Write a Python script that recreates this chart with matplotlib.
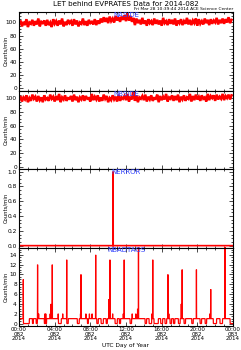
import numpy as np
import matplotlib
matplotlib.use("Agg")
import matplotlib.pyplot as plt
from matplotlib.ticker import MultipleLocator, AutoMinorLocator, FormatStrFormatter

# ---- data ----
title = "LET behind EVPRATES Data for 2014-082"
stamp = "Fri Mar 28 10:39:44 2014 ACE Science Center"
panel_names = ["NASIDE", "NBSIDE", "NERROR", "NBADTAGS"]
x_tick_hours = [0, 4, 8, 12, 16, 20, 24]
x_tick_labels = ["00:00\n082\n2014", "04:00\n082\n2014", "08:00\n082\n2014",
                 "12:00\n082\n2014", "16:00\n082\n2014", "20:00\n082\n2014",
                 "00:00\n083\n2014"]

# 10-minute samples (144 per day)
naside = [97, 103, 94, 101, 96, 105, 93, 100, 98, 104,
          95, 102, 97, 106, 94, 101, 99, 103, 95, 104,
          96, 100, 93, 105, 98, 102, 95, 103, 97, 106,
          94, 101, 96, 104, 99, 102, 95, 105, 97, 103,
          94, 100, 98, 106, 96, 102, 95, 104, 99, 101,
          97, 105, 96, 103,
          98, 106, 100, 108, 101, 107, 99, 109, 102, 106,
          100, 110, 103, 108, 101, 109, 104, 111, 102, 114,
          103, 110, 101, 107,
          96, 106, 99, 104, 97, 107, 98, 103, 95, 105,
          99, 102, 96, 106, 98, 104, 97, 103, 95, 107,
          99, 102, 96, 105, 98, 104, 97, 106, 95, 103,
          99, 105, 96, 102, 98, 107, 97, 104, 96, 103,
          99, 106, 95, 105, 98, 102, 97, 106, 99, 104,
          96, 105, 98, 103, 100, 107, 97, 104, 99, 106,
          98, 105, 100, 108, 99, 104]
nbside = [97, 103, 95, 101, 98, 104, 94, 100, 96, 105,
          99, 102, 95, 103, 97, 101, 94, 104, 98, 100,
          96, 105, 99, 102, 95, 103, 97, 106, 94, 101,
          98, 104, 96, 100, 99, 103, 95, 105, 97, 102,
          94, 101, 98, 104, 96, 103, 99, 100, 95, 106,
          97, 102, 98, 104, 95, 101, 96, 105, 99, 103,
          94, 100, 97, 104, 98, 102, 95, 105, 96, 101,
          99, 103, 97, 106, 95, 102, 98, 112, 96, 104,
          94, 101, 99, 103, 97, 105, 95, 102, 98, 104,
          96, 100, 99, 105, 94, 103, 97, 102, 98, 106,
          95, 101, 99, 104, 96, 103, 97, 105, 94, 102,
          98, 104, 96, 101, 99, 106, 95, 103, 97, 105,
          98, 102, 96, 104, 99, 101, 95, 106, 97, 103,
          100, 104, 96, 105, 98, 102, 99, 106, 97, 103,
          100, 105, 98, 104]

# NERROR events (hour, count)
nerror_hours = [10.55]
nerror_counts = [1]

# NBADTAGS: runs of 1 count/min (start hour, end hour)
badtag_run_start = [0.0, 1.16, 1.61, 2.06, 3.10, 4.75, 5.53, 6.77, 7.78, 8.90,
                    9.46, 9.91, 11.03, 11.40, 12.63, 14.32, 14.88, 15.63, 16.11,
                    16.56, 17.12, 17.49, 18.09, 18.69, 19.55, 20.49, 21.05,
                    22.16, 22.84]
badtag_run_end = [0.49, 1.50, 1.91, 2.84, 4.41, 5.35, 6.54, 7.66, 8.71, 9.20,
                  9.76, 10.77, 11.25, 12.45, 14.13, 14.58, 15.14, 15.89, 16.37,
                  16.93, 17.31, 17.87, 18.50, 19.36, 20.30, 20.86, 21.79,
                  22.54, 23.66]
# NBADTAGS: single-minute spikes (hour, count)
badtag_hours = [0.49, 2.09, 2.20, 2.90, 3.00, 3.50, 3.59, 3.74, 4.40, 4.90,
                5.35, 6.90, 6.95, 7.50, 7.90, 8.20, 8.60, 10.10, 10.20, 10.50,
                11.70, 11.80, 12.70, 13.10, 13.30, 13.40, 14.90, 15.00, 16.70,
                16.80, 18.20, 18.30, 19.90, 21.40, 21.50, 23.10]
badtag_counts = [9, 12, 2, 2, 2, 2, 4, 12, 2, 2,
                 13, 2, 10, 2, 2, 2, 14, 5, 13, 2,
                 2, 13, 2, 2, 3, 16, 2, 13, 10,
                 2, 4, 11, 11, 2, 7, 16]

# ---- build per-minute series for event panels ----
minutes = np.arange(24 * 60 + 1)
hours_min = minutes / 60.0

nerror = np.zeros(len(minutes))
for h, c in zip(nerror_hours, nerror_counts):
    nerror[int(round(h * 60))] = c

nbad = np.zeros(len(minutes))
for s, e in zip(badtag_run_start, badtag_run_end):
    nbad[int(round(s * 60)):int(round(e * 60)) + 1] = 1
for h, c in zip(badtag_hours, badtag_counts):
    nbad[int(round(h * 60))] = c

hours10 = np.arange(len(naside)) * (24.0 / len(naside))

# ---- figure ----
fig = plt.figure(figsize=(2.41, 3.50), dpi=100)
left, right = 19 / 241, 233 / 241
top_px, bot_px = 12, 326
panel_h = (bot_px - top_px) / 4
axes = []
for i in range(4):
    y0 = 1 - (top_px + (i + 1) * panel_h) / 350
    ax = fig.add_axes([left, y0, right - left, panel_h / 350])
    axes.append(ax)

series = [(hours10, naside), (hours10, nbside), (hours_min, nerror), (hours_min, nbad)]
ylims = [(-4, 116), (-3, 111), (-0.025, 1.035), (-0.5, 15.5)]
ymaj = [20, 20, 0.2, 2]
lws = [1.8, 1.8, 1.2, 0.9]

for i, ax in enumerate(axes):
    x, y = series[i]
    ax.plot(x, y, color="red", lw=lws[i], solid_joinstyle="miter")
    ax.set_xlim(0, 24)
    ax.set_ylim(*ylims[i])
    ax.yaxis.set_major_locator(MultipleLocator(ymaj[i]))
    ax.yaxis.set_minor_locator(AutoMinorLocator(4))
    ax.xaxis.set_major_locator(MultipleLocator(4))
    ax.xaxis.set_minor_locator(MultipleLocator(1))
    ax.tick_params(which="both", direction="in", top=True, right=True,
                   labelsize=4.2, width=0.5, pad=1.5)
    ax.tick_params(which="major", length=3)
    ax.tick_params(which="minor", length=1.5)
    for sp in ax.spines.values():
        sp.set_linewidth(0.8)
    if i == 2:
        ax.yaxis.set_major_formatter(FormatStrFormatter("%.1f"))
    ax.set_ylabel("Counts/min", fontsize=3.8)
    ax.yaxis.set_label_coords(-0.052, 0.5)
    ax.text(12, ylims[i][1], panel_names[i], color="#3344ff", fontsize=5,
            ha="center", va="top")
    if i < 3:
        ax.set_xticklabels([])
    else:
        ax.set_xticks(x_tick_hours)
        ax.set_xticklabels(x_tick_labels, fontsize=4.0, linespacing=0.85)
        ax.tick_params(axis="x", pad=1.0)
        ax.set_xlabel("UTC Day of Year", fontsize=4.2)
        ax.xaxis.set_label_coords(0.5, -(343.0 - bot_px) / panel_h)

fig.text(126 / 241, 1 - 4.5 / 350, title, ha="center", va="center", fontsize=5.1)
fig.text(right, 1 - 9.5 / 350, stamp, ha="right", va="center", fontsize=3.2)

fig.savefig("out.png", dpi=100)
